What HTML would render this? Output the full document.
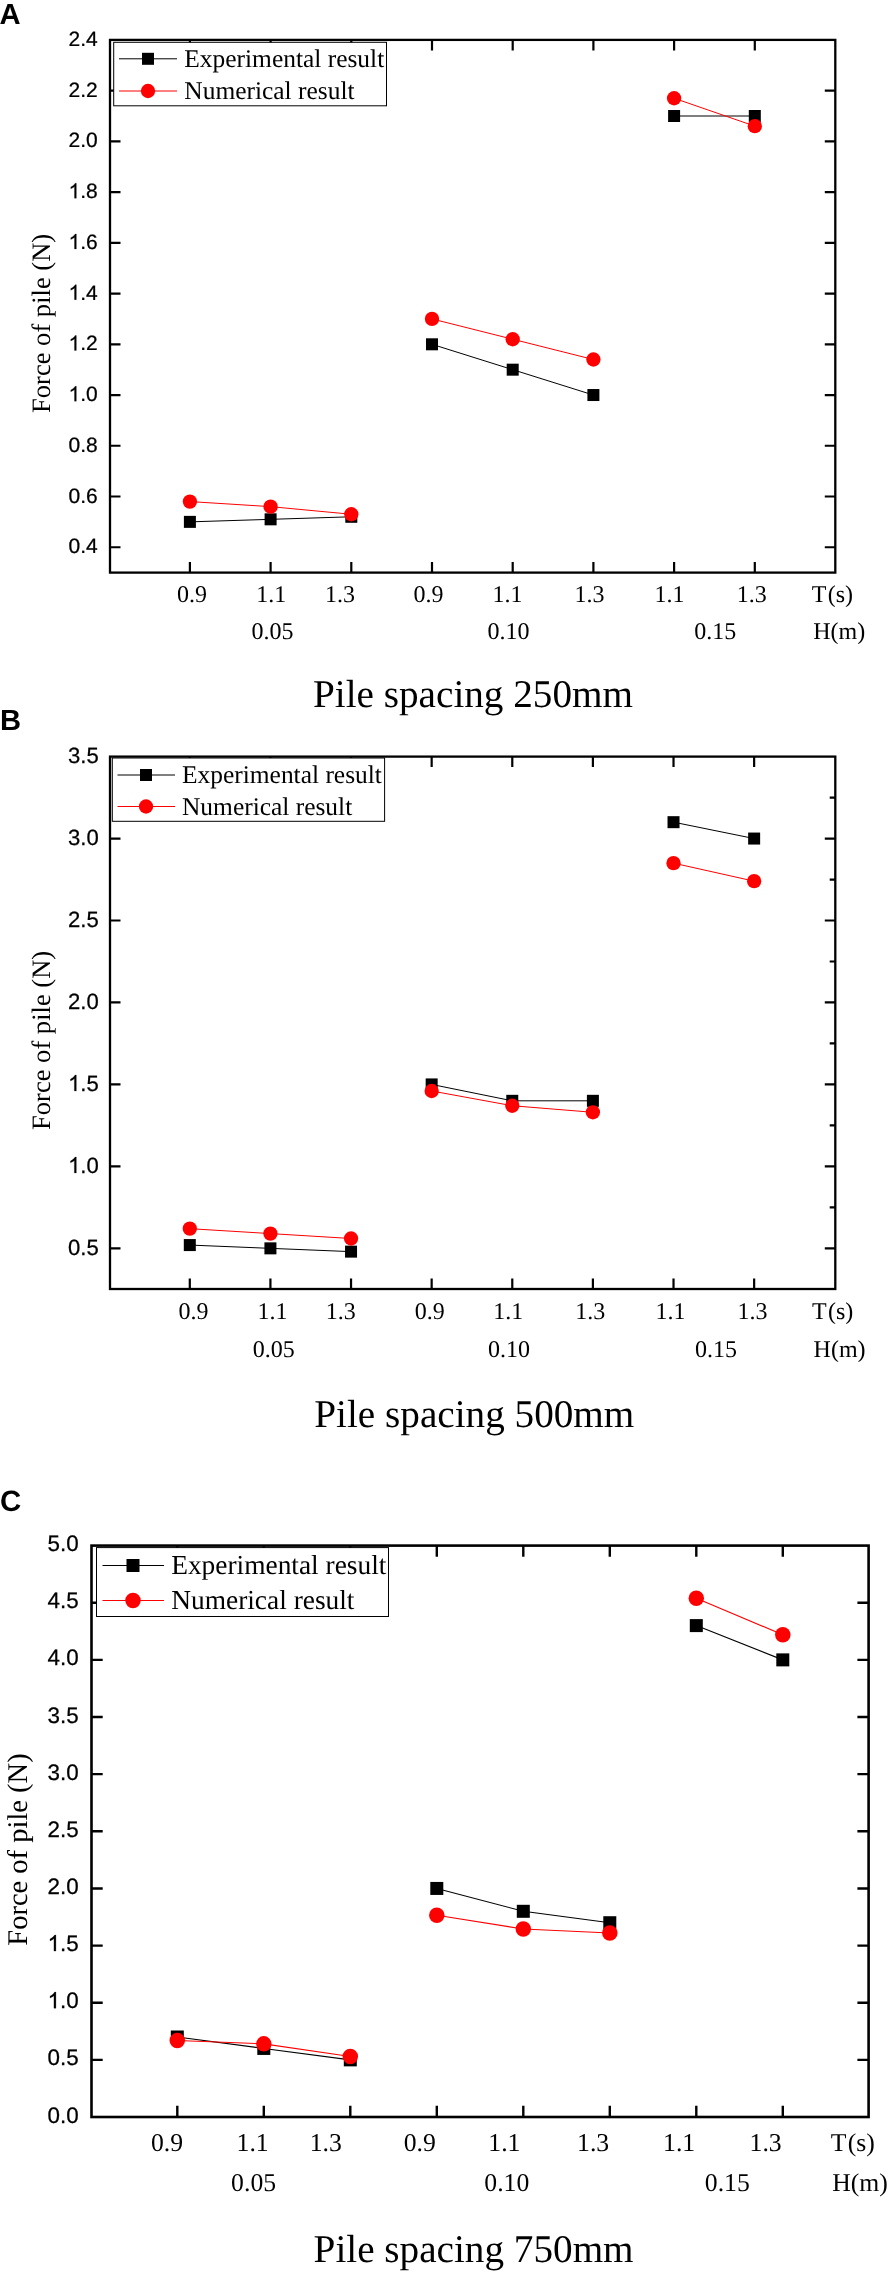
<!DOCTYPE html>
<html><head><meta charset="utf-8"><title>Force of pile</title>
<style>
html,body{margin:0;padding:0;background:#fff;}
body{width:890px;height:2272px;overflow:hidden;font-family:"Liberation Sans",sans-serif;}
svg{display:block;will-change:transform;}
text{fill:#000;text-rendering:geometricPrecision;}
</style></head>
<body>
<svg width="890" height="2272" viewBox="0 0 890 2272">
<rect width="890" height="2272" fill="#fff"/>
<path d="M189.9 39.9v10.5M189.9 572.6v-10.5M270.6 39.9v10.5M270.6 572.6v-10.5M351.3 39.9v10.5M351.3 572.6v-10.5M432 39.9v10.5M432 572.6v-10.5M512.7 39.9v10.5M512.7 572.6v-10.5M593.4 39.9v10.5M593.4 572.6v-10.5M674.1 39.9v10.5M674.1 572.6v-10.5M754.8 39.9v10.5M754.8 572.6v-10.5M110 547.23h10.5M835.3 547.23h-10.5M110 496.5h10.5M835.3 496.5h-10.5M110 445.77h10.5M835.3 445.77h-10.5M110 395.03h10.5M835.3 395.03h-10.5M110 344.3h10.5M835.3 344.3h-10.5M110 293.57h10.5M835.3 293.57h-10.5M110 242.83h10.5M835.3 242.83h-10.5M110 192.1h10.5M835.3 192.1h-10.5M110 141.37h10.5M835.3 141.37h-10.5M110 90.63h10.5M835.3 90.63h-10.5" stroke="#000" stroke-width="2.2" fill="none"/>
<rect x="110" y="39.9" width="725.3" height="532.7" fill="none" stroke="#000" stroke-width="2.3"/>
<text transform="translate(97.7 553.33) scale(1 0.99)" font-family="'Liberation Sans', sans-serif" font-size="21" text-anchor="end" stroke="#000" stroke-width="0.25">0.4</text>
<text transform="translate(97.7 502.6) scale(1 0.99)" font-family="'Liberation Sans', sans-serif" font-size="21" text-anchor="end" stroke="#000" stroke-width="0.25">0.6</text>
<text transform="translate(97.7 451.87) scale(1 0.99)" font-family="'Liberation Sans', sans-serif" font-size="21" text-anchor="end" stroke="#000" stroke-width="0.25">0.8</text>
<text transform="translate(97.7 401.13) scale(1 0.99)" font-family="'Liberation Sans', sans-serif" font-size="21" text-anchor="end" stroke="#000" stroke-width="0.25">.0</text>
<path transform="translate(68.51 401.13) scale(0.01025 -0.01015)" d="M763 0H583V1147Q518 1085 412.5 1023T223 930V1104Q374 1175 487 1276T647 1472H763Z" fill="#000" stroke="#000" stroke-width="24.4"/>
<text transform="translate(97.7 350.4) scale(1 0.99)" font-family="'Liberation Sans', sans-serif" font-size="21" text-anchor="end" stroke="#000" stroke-width="0.25">.2</text>
<path transform="translate(68.51 350.40) scale(0.01025 -0.01015)" d="M763 0H583V1147Q518 1085 412.5 1023T223 930V1104Q374 1175 487 1276T647 1472H763Z" fill="#000" stroke="#000" stroke-width="24.4"/>
<text transform="translate(97.7 299.67) scale(1 0.99)" font-family="'Liberation Sans', sans-serif" font-size="21" text-anchor="end" stroke="#000" stroke-width="0.25">.4</text>
<path transform="translate(68.51 299.67) scale(0.01025 -0.01015)" d="M763 0H583V1147Q518 1085 412.5 1023T223 930V1104Q374 1175 487 1276T647 1472H763Z" fill="#000" stroke="#000" stroke-width="24.4"/>
<text transform="translate(97.7 248.93) scale(1 0.99)" font-family="'Liberation Sans', sans-serif" font-size="21" text-anchor="end" stroke="#000" stroke-width="0.25">.6</text>
<path transform="translate(68.51 248.93) scale(0.01025 -0.01015)" d="M763 0H583V1147Q518 1085 412.5 1023T223 930V1104Q374 1175 487 1276T647 1472H763Z" fill="#000" stroke="#000" stroke-width="24.4"/>
<text transform="translate(97.7 198.2) scale(1 0.99)" font-family="'Liberation Sans', sans-serif" font-size="21" text-anchor="end" stroke="#000" stroke-width="0.25">.8</text>
<path transform="translate(68.51 198.20) scale(0.01025 -0.01015)" d="M763 0H583V1147Q518 1085 412.5 1023T223 930V1104Q374 1175 487 1276T647 1472H763Z" fill="#000" stroke="#000" stroke-width="24.4"/>
<text transform="translate(97.7 147.47) scale(1 0.99)" font-family="'Liberation Sans', sans-serif" font-size="21" text-anchor="end" stroke="#000" stroke-width="0.25">2.0</text>
<text transform="translate(97.7 96.73) scale(1 0.99)" font-family="'Liberation Sans', sans-serif" font-size="21" text-anchor="end" stroke="#000" stroke-width="0.25">2.2</text>
<text transform="translate(97.7 46) scale(1 0.99)" font-family="'Liberation Sans', sans-serif" font-size="21" text-anchor="end" stroke="#000" stroke-width="0.25">2.4</text>
<text transform="translate(49.7 323.4) rotate(-90)" font-family="'Liberation Serif', serif" font-size="26.55" text-anchor="middle">Force of pile (N)</text>
<rect x="113.7" y="42.3" width="272.8" height="63.5" fill="#fff" stroke="#000" stroke-width="1"/>
<path d="M119 58.8H177" stroke="#000" stroke-width="1"/>
<rect x="142" y="52.8" width="12" height="12" fill="#000"/>
<path d="M119 91H177" stroke="#f00" stroke-width="1"/>
<circle cx="148" cy="91" r="7.15" fill="#f00"/>
<text x="184.3" y="67" font-family="'Liberation Serif', serif" font-size="25.45">Experimental result</text>
<text x="184.3" y="99.2" font-family="'Liberation Serif', serif" font-size="25.45">Numerical result</text>
<path d="M189.9 521.87L270.6 519.33L351.3 516.79M432 344.3L512.7 369.67L593.4 395.03M674.1 116L754.8 116" stroke="#000" stroke-width="1" fill="none"/>
<rect x="183.9" y="515.87" width="12" height="12" fill="#000"/>
<rect x="264.6" y="513.33" width="12" height="12" fill="#000"/>
<rect x="345.3" y="510.79" width="12" height="12" fill="#000"/>
<rect x="426" y="338.3" width="12" height="12" fill="#000"/>
<rect x="506.7" y="363.67" width="12" height="12" fill="#000"/>
<rect x="587.4" y="389.03" width="12" height="12" fill="#000"/>
<rect x="668.1" y="110" width="12" height="12" fill="#000"/>
<rect x="748.8" y="110" width="12" height="12" fill="#000"/>
<path d="M189.9 501.57L270.6 506.65L351.3 514.26M432 318.93L512.7 339.23L593.4 359.52M674.1 98.24L754.8 126.15" stroke="#f00" stroke-width="1" fill="none"/>
<circle cx="189.9" cy="501.57" r="7.15" fill="#f00"/>
<circle cx="270.6" cy="506.65" r="7.15" fill="#f00"/>
<circle cx="351.3" cy="514.26" r="7.15" fill="#f00"/>
<circle cx="432" cy="318.93" r="7.15" fill="#f00"/>
<circle cx="512.7" cy="339.23" r="7.15" fill="#f00"/>
<circle cx="593.4" cy="359.52" r="7.15" fill="#f00"/>
<circle cx="674.1" cy="98.24" r="7.15" fill="#f00"/>
<circle cx="754.8" cy="126.15" r="7.15" fill="#f00"/>
<text x="192" y="601.8" font-family="'Liberation Serif', serif" font-size="24" text-anchor="middle">0.9</text>
<text x="271.2" y="601.8" font-family="'Liberation Serif', serif" font-size="24" text-anchor="middle">1.1</text>
<text x="340.1" y="601.8" font-family="'Liberation Serif', serif" font-size="24" text-anchor="middle">1.3</text>
<text x="428.5" y="601.8" font-family="'Liberation Serif', serif" font-size="24" text-anchor="middle">0.9</text>
<text x="507.4" y="601.8" font-family="'Liberation Serif', serif" font-size="24" text-anchor="middle">1.1</text>
<text x="589.5" y="601.8" font-family="'Liberation Serif', serif" font-size="24" text-anchor="middle">1.3</text>
<text x="669.5" y="601.8" font-family="'Liberation Serif', serif" font-size="24" text-anchor="middle">1.1</text>
<text x="751.7" y="601.8" font-family="'Liberation Serif', serif" font-size="24" text-anchor="middle">1.3</text>
<text x="832.4" y="601.8" font-family="'Liberation Serif', serif" font-size="24" text-anchor="middle">T<tspan dx="1.3">(s)</tspan></text>
<text x="272.4" y="639.4" font-family="'Liberation Serif', serif" font-size="24" text-anchor="middle">0.05</text>
<text x="508.4" y="639.4" font-family="'Liberation Serif', serif" font-size="24" text-anchor="middle">0.10</text>
<text x="715.2" y="639.4" font-family="'Liberation Serif', serif" font-size="24" text-anchor="middle">0.15</text>
<text x="839.2" y="639.4" font-family="'Liberation Serif', serif" font-size="24" text-anchor="middle">H(m)</text>
<text x="313" y="707.3" font-family="'Liberation Serif', serif" font-size="39.2">Pile spacing 250mm</text>
<text x="-0.5" y="24" font-family="'Liberation Sans', sans-serif" font-weight="bold" font-size="29.2">A</text>
<path d="M189.8 756.6v10.5M189.8 1289v-10.5M270.42 756.6v10.5M270.42 1289v-10.5M351.04 756.6v10.5M351.04 1289v-10.5M431.66 756.6v10.5M431.66 1289v-10.5M512.28 756.6v10.5M512.28 1289v-10.5M592.9 756.6v10.5M592.9 1289v-10.5M673.52 756.6v10.5M673.52 1289v-10.5M754.14 756.6v10.5M754.14 1289v-10.5M110 1248.35h10.5M835.3 1248.35h-10.5M110 1166.39h10.5M835.3 1166.39h-10.5M110 1084.43h10.5M835.3 1084.43h-10.5M110 1002.47h10.5M835.3 1002.47h-10.5M110 920.52h10.5M835.3 920.52h-10.5M110 838.56h10.5M835.3 838.56h-10.5M835.3 1207.37h-5.6M835.3 1125.41h-5.6M835.3 1043.45h-5.6M835.3 961.5h-5.6M835.3 879.54h-5.6M835.3 797.58h-5.6" stroke="#000" stroke-width="2.2" fill="none"/>
<rect x="110" y="756.6" width="725.3" height="532.4" fill="none" stroke="#000" stroke-width="2.3"/>
<text transform="translate(98.8 1254.85) scale(1 1.0)" font-family="'Liberation Sans', sans-serif" font-size="22.1" text-anchor="end" stroke="#000" stroke-width="0.25">0.5</text>
<text transform="translate(98.8 1172.89) scale(1 1.0)" font-family="'Liberation Sans', sans-serif" font-size="22.1" text-anchor="end" stroke="#000" stroke-width="0.25">.0</text>
<path transform="translate(68.08 1172.89) scale(0.01079 -0.01079)" d="M763 0H583V1147Q518 1085 412.5 1023T223 930V1104Q374 1175 487 1276T647 1472H763Z" fill="#000" stroke="#000" stroke-width="23.2"/>
<text transform="translate(98.8 1090.93) scale(1 1.0)" font-family="'Liberation Sans', sans-serif" font-size="22.1" text-anchor="end" stroke="#000" stroke-width="0.25">.5</text>
<path transform="translate(68.08 1090.93) scale(0.01079 -0.01079)" d="M763 0H583V1147Q518 1085 412.5 1023T223 930V1104Q374 1175 487 1276T647 1472H763Z" fill="#000" stroke="#000" stroke-width="23.2"/>
<text transform="translate(98.8 1008.97) scale(1 1.0)" font-family="'Liberation Sans', sans-serif" font-size="22.1" text-anchor="end" stroke="#000" stroke-width="0.25">2.0</text>
<text transform="translate(98.8 927.02) scale(1 1.0)" font-family="'Liberation Sans', sans-serif" font-size="22.1" text-anchor="end" stroke="#000" stroke-width="0.25">2.5</text>
<text transform="translate(98.8 845.06) scale(1 1.0)" font-family="'Liberation Sans', sans-serif" font-size="22.1" text-anchor="end" stroke="#000" stroke-width="0.25">3.0</text>
<text transform="translate(98.8 763.1) scale(1 1.0)" font-family="'Liberation Sans', sans-serif" font-size="22.1" text-anchor="end" stroke="#000" stroke-width="0.25">3.5</text>
<text transform="translate(49.7 1040.4) rotate(-90)" font-family="'Liberation Serif', serif" font-size="26.55" text-anchor="middle">Force of pile (N)</text>
<rect x="112.3" y="758" width="272.3" height="63.3" fill="#fff" stroke="#000" stroke-width="1"/>
<path d="M117.5 775H175" stroke="#000" stroke-width="1"/>
<rect x="140" y="769" width="12" height="12" fill="#000"/>
<path d="M117.5 806.5H175" stroke="#f00" stroke-width="1"/>
<circle cx="146" cy="806.5" r="7.15" fill="#f00"/>
<text x="182" y="783.2" font-family="'Liberation Serif', serif" font-size="25.45">Experimental result</text>
<text x="182" y="814.7" font-family="'Liberation Serif', serif" font-size="25.45">Numerical result</text>
<path d="M189.8 1245.07L270.42 1248.35L351.04 1251.63M431.66 1084.43L512.28 1100.82L592.9 1100.82M673.52 822.17L754.14 838.56" stroke="#000" stroke-width="1" fill="none"/>
<rect x="183.8" y="1239.07" width="12" height="12" fill="#000"/>
<rect x="264.42" y="1242.35" width="12" height="12" fill="#000"/>
<rect x="345.04" y="1245.63" width="12" height="12" fill="#000"/>
<rect x="425.66" y="1078.43" width="12" height="12" fill="#000"/>
<rect x="506.28" y="1094.82" width="12" height="12" fill="#000"/>
<rect x="586.9" y="1094.82" width="12" height="12" fill="#000"/>
<rect x="667.52" y="816.17" width="12" height="12" fill="#000"/>
<rect x="748.14" y="832.56" width="12" height="12" fill="#000"/>
<path d="M189.8 1228.68L270.42 1233.6L351.04 1238.51M431.66 1090.99L512.28 1105.74L592.9 1112.3M673.52 863.15L754.14 881.18" stroke="#f00" stroke-width="1" fill="none"/>
<circle cx="189.8" cy="1228.68" r="7.15" fill="#f00"/>
<circle cx="270.42" cy="1233.6" r="7.15" fill="#f00"/>
<circle cx="351.04" cy="1238.51" r="7.15" fill="#f00"/>
<circle cx="431.66" cy="1090.99" r="7.15" fill="#f00"/>
<circle cx="512.28" cy="1105.74" r="7.15" fill="#f00"/>
<circle cx="592.9" cy="1112.3" r="7.15" fill="#f00"/>
<circle cx="673.52" cy="863.15" r="7.15" fill="#f00"/>
<circle cx="754.14" cy="881.18" r="7.15" fill="#f00"/>
<text x="193.6" y="1319" font-family="'Liberation Serif', serif" font-size="24" text-anchor="middle">0.9</text>
<text x="272.4" y="1319" font-family="'Liberation Serif', serif" font-size="24" text-anchor="middle">1.1</text>
<text x="340.8" y="1319" font-family="'Liberation Serif', serif" font-size="24" text-anchor="middle">1.3</text>
<text x="429.7" y="1319" font-family="'Liberation Serif', serif" font-size="24" text-anchor="middle">0.9</text>
<text x="508.2" y="1319" font-family="'Liberation Serif', serif" font-size="24" text-anchor="middle">1.1</text>
<text x="590.3" y="1319" font-family="'Liberation Serif', serif" font-size="24" text-anchor="middle">1.3</text>
<text x="670.4" y="1319" font-family="'Liberation Serif', serif" font-size="24" text-anchor="middle">1.1</text>
<text x="752.6" y="1319" font-family="'Liberation Serif', serif" font-size="24" text-anchor="middle">1.3</text>
<text x="832.6" y="1319" font-family="'Liberation Serif', serif" font-size="24" text-anchor="middle">T<tspan dx="1.3">(s)</tspan></text>
<text x="273.7" y="1357" font-family="'Liberation Serif', serif" font-size="24" text-anchor="middle">0.05</text>
<text x="509" y="1357" font-family="'Liberation Serif', serif" font-size="24" text-anchor="middle">0.10</text>
<text x="716" y="1357" font-family="'Liberation Serif', serif" font-size="24" text-anchor="middle">0.15</text>
<text x="839.6" y="1357" font-family="'Liberation Serif', serif" font-size="24" text-anchor="middle">H(m)</text>
<text x="314.3" y="1427.4" font-family="'Liberation Serif', serif" font-size="39.2">Pile spacing 500mm</text>
<text x="0" y="730.4" font-family="'Liberation Sans', sans-serif" font-weight="bold" font-size="29.2">B</text>
<path d="M177.3 1545.6v11.2M177.3 2117v-11.2M263.8 1545.6v11.2M263.8 2117v-11.2M350.3 1545.6v11.2M350.3 2117v-11.2M436.8 1545.6v11.2M436.8 2117v-11.2M523.3 1545.6v11.2M523.3 2117v-11.2M609.8 1545.6v11.2M609.8 2117v-11.2M696.3 1545.6v11.2M696.3 2117v-11.2M782.8 1545.6v11.2M782.8 2117v-11.2M91.5 2059.86h11.2M868.6 2059.86h-11.2M91.5 2002.72h11.2M868.6 2002.72h-11.2M91.5 1945.58h11.2M868.6 1945.58h-11.2M91.5 1888.44h11.2M868.6 1888.44h-11.2M91.5 1831.3h11.2M868.6 1831.3h-11.2M91.5 1774.16h11.2M868.6 1774.16h-11.2M91.5 1717.02h11.2M868.6 1717.02h-11.2M91.5 1659.88h11.2M868.6 1659.88h-11.2M91.5 1602.74h11.2M868.6 1602.74h-11.2" stroke="#000" stroke-width="2.4" fill="none"/>
<rect x="91.5" y="1545.6" width="777.1" height="571.4" fill="none" stroke="#000" stroke-width="2.6"/>
<text transform="translate(78.7 2122.5) scale(1 1.0)" font-family="'Liberation Sans', sans-serif" font-size="22.4" text-anchor="end" stroke="#000" stroke-width="0.25">0.0</text>
<text transform="translate(78.7 2065.36) scale(1 1.0)" font-family="'Liberation Sans', sans-serif" font-size="22.4" text-anchor="end" stroke="#000" stroke-width="0.25">0.5</text>
<text transform="translate(78.7 2008.22) scale(1 1.0)" font-family="'Liberation Sans', sans-serif" font-size="22.4" text-anchor="end" stroke="#000" stroke-width="0.25">.0</text>
<path transform="translate(47.56 2008.22) scale(0.01094 -0.01094)" d="M763 0H583V1147Q518 1085 412.5 1023T223 930V1104Q374 1175 487 1276T647 1472H763Z" fill="#000" stroke="#000" stroke-width="22.9"/>
<text transform="translate(78.7 1951.08) scale(1 1.0)" font-family="'Liberation Sans', sans-serif" font-size="22.4" text-anchor="end" stroke="#000" stroke-width="0.25">.5</text>
<path transform="translate(47.56 1951.08) scale(0.01094 -0.01094)" d="M763 0H583V1147Q518 1085 412.5 1023T223 930V1104Q374 1175 487 1276T647 1472H763Z" fill="#000" stroke="#000" stroke-width="22.9"/>
<text transform="translate(78.7 1893.94) scale(1 1.0)" font-family="'Liberation Sans', sans-serif" font-size="22.4" text-anchor="end" stroke="#000" stroke-width="0.25">2.0</text>
<text transform="translate(78.7 1836.8) scale(1 1.0)" font-family="'Liberation Sans', sans-serif" font-size="22.4" text-anchor="end" stroke="#000" stroke-width="0.25">2.5</text>
<text transform="translate(78.7 1779.66) scale(1 1.0)" font-family="'Liberation Sans', sans-serif" font-size="22.4" text-anchor="end" stroke="#000" stroke-width="0.25">3.0</text>
<text transform="translate(78.7 1722.52) scale(1 1.0)" font-family="'Liberation Sans', sans-serif" font-size="22.4" text-anchor="end" stroke="#000" stroke-width="0.25">3.5</text>
<text transform="translate(78.7 1665.38) scale(1 1.0)" font-family="'Liberation Sans', sans-serif" font-size="22.4" text-anchor="end" stroke="#000" stroke-width="0.25">4.0</text>
<text transform="translate(78.7 1608.24) scale(1 1.0)" font-family="'Liberation Sans', sans-serif" font-size="22.4" text-anchor="end" stroke="#000" stroke-width="0.25">4.5</text>
<text transform="translate(78.7 1551.1) scale(1 1.0)" font-family="'Liberation Sans', sans-serif" font-size="22.4" text-anchor="end" stroke="#000" stroke-width="0.25">5.0</text>
<text transform="translate(26.6 1849.5) rotate(-90)" font-family="'Liberation Serif', serif" font-size="28.5" text-anchor="middle">Force of pile (N)</text>
<rect x="96.5" y="1547.6" width="292" height="68.9" fill="#fff" stroke="#000" stroke-width="1"/>
<path d="M102.5 1565.5H164" stroke="#000" stroke-width="1.1"/>
<rect x="126.5" y="1559" width="13" height="13" fill="#000"/>
<path d="M102.5 1600.5H164" stroke="#f00" stroke-width="1.1"/>
<circle cx="133" cy="1600.5" r="7.75" fill="#f00"/>
<text x="171.2" y="1574.3" font-family="'Liberation Serif', serif" font-size="27.4">Experimental result</text>
<text x="171.2" y="1609.3" font-family="'Liberation Serif', serif" font-size="27.4">Numerical result</text>
<path d="M177.3 2037L263.8 2048.43L350.3 2059.86M436.8 1888.44L523.3 1911.3L609.8 1922.72M696.3 1625.6L782.8 1659.88" stroke="#000" stroke-width="1.1" fill="none"/>
<rect x="170.8" y="2030.5" width="13" height="13" fill="#000"/>
<rect x="257.3" y="2041.93" width="13" height="13" fill="#000"/>
<rect x="343.8" y="2053.36" width="13" height="13" fill="#000"/>
<rect x="430.3" y="1881.94" width="13" height="13" fill="#000"/>
<rect x="516.8" y="1904.8" width="13" height="13" fill="#000"/>
<rect x="603.3" y="1916.22" width="13" height="13" fill="#000"/>
<rect x="689.8" y="1619.1" width="13" height="13" fill="#000"/>
<rect x="776.3" y="1653.38" width="13" height="13" fill="#000"/>
<path d="M177.3 2040.43L263.8 2043.86L350.3 2056.43M436.8 1915.3L523.3 1929.01L609.8 1933.01M696.3 1598.17L782.8 1634.74" stroke="#f00" stroke-width="1.1" fill="none"/>
<circle cx="177.3" cy="2040.43" r="7.75" fill="#f00"/>
<circle cx="263.8" cy="2043.86" r="7.75" fill="#f00"/>
<circle cx="350.3" cy="2056.43" r="7.75" fill="#f00"/>
<circle cx="436.8" cy="1915.3" r="7.75" fill="#f00"/>
<circle cx="523.3" cy="1929.01" r="7.75" fill="#f00"/>
<circle cx="609.8" cy="1933.01" r="7.75" fill="#f00"/>
<circle cx="696.3" cy="1598.17" r="7.75" fill="#f00"/>
<circle cx="782.8" cy="1634.74" r="7.75" fill="#f00"/>
<text x="167" y="2151.4" font-family="'Liberation Serif', serif" font-size="25.7" text-anchor="middle">0.9</text>
<text x="252.6" y="2151.4" font-family="'Liberation Serif', serif" font-size="25.7" text-anchor="middle">1.1</text>
<text x="325.8" y="2151.4" font-family="'Liberation Serif', serif" font-size="25.7" text-anchor="middle">1.3</text>
<text x="419.7" y="2151.4" font-family="'Liberation Serif', serif" font-size="25.7" text-anchor="middle">0.9</text>
<text x="504.4" y="2151.4" font-family="'Liberation Serif', serif" font-size="25.7" text-anchor="middle">1.1</text>
<text x="593.1" y="2151.4" font-family="'Liberation Serif', serif" font-size="25.7" text-anchor="middle">1.3</text>
<text x="679.1" y="2151.4" font-family="'Liberation Serif', serif" font-size="25.7" text-anchor="middle">1.1</text>
<text x="765.6" y="2151.4" font-family="'Liberation Serif', serif" font-size="25.7" text-anchor="middle">1.3</text>
<text x="852.7" y="2151.4" font-family="'Liberation Serif', serif" font-size="25.7" text-anchor="middle">T<tspan dx="1.3">(s)</tspan></text>
<text x="253.6" y="2191" font-family="'Liberation Serif', serif" font-size="25.7" text-anchor="middle">0.05</text>
<text x="506.8" y="2191" font-family="'Liberation Serif', serif" font-size="25.7" text-anchor="middle">0.10</text>
<text x="727.3" y="2191" font-family="'Liberation Serif', serif" font-size="25.7" text-anchor="middle">0.15</text>
<text x="860" y="2191" font-family="'Liberation Serif', serif" font-size="25.7" text-anchor="middle">H(m)</text>
<text x="313.6" y="2261.6" font-family="'Liberation Serif', serif" font-size="39.2">Pile spacing 750mm</text>
<text x="0" y="1510.8" font-family="'Liberation Sans', sans-serif" font-weight="bold" font-size="29.4">C</text>
</svg>
</body></html>
